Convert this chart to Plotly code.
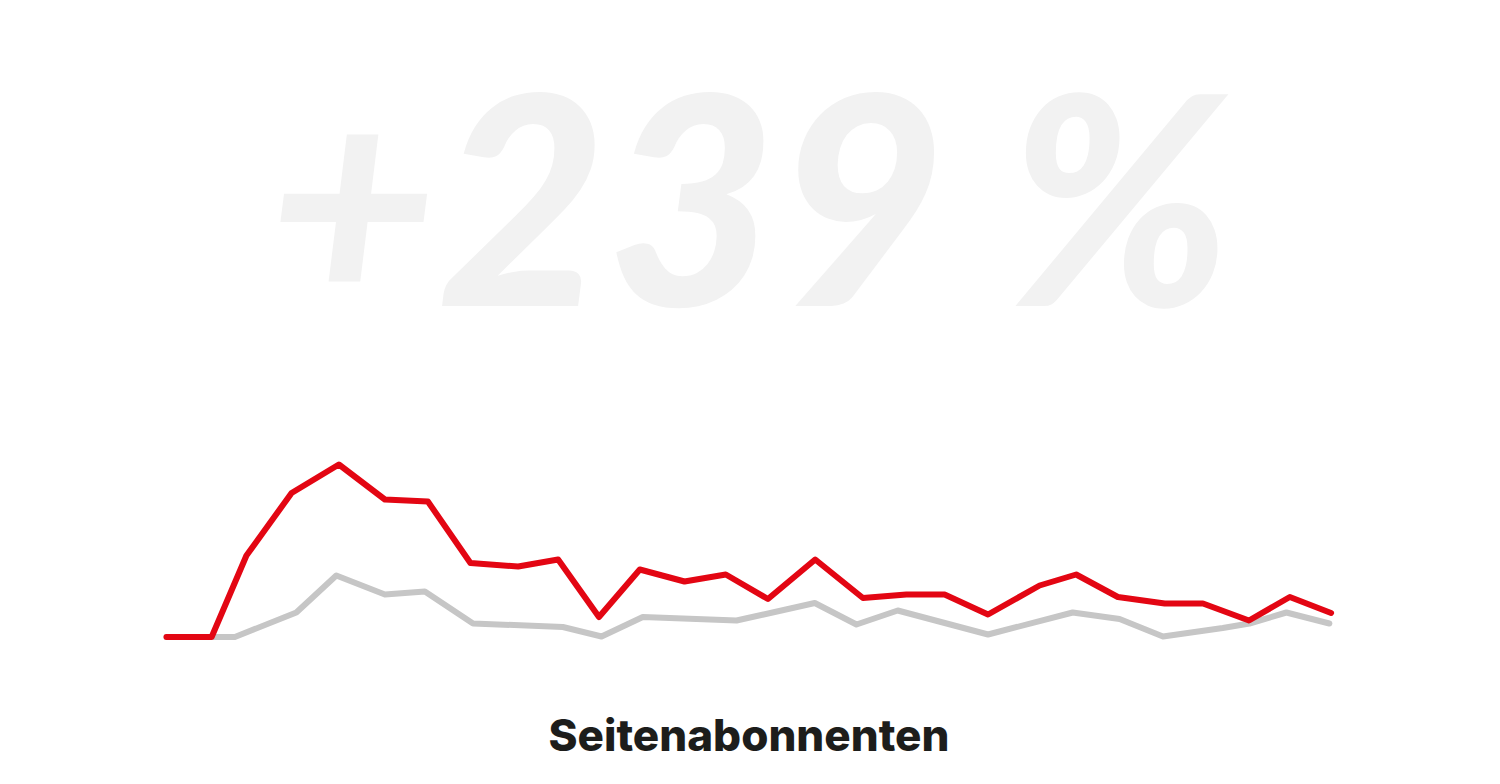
import plotly.graph_objects as go

# Current period (red) – day positions and subscriber gains
red_x = [0, 1.05, 1.86, 2.91, 4.01, 5.08, 6.08, 7.07, 8.18, 9.11, 10.06, 11.01, 12.05, 13.01,
         13.99, 15.09, 16.2, 17.21, 18.1, 19.11, 20.31, 21.16, 22.13, 23.22, 24.11, 25.18, 26.13, 27.09]
red_y = [0, 0, 16.3, 28.8, 34.5, 27.5, 27.1, 14.8, 14.1, 15.5, 4.0, 13.5, 11.1, 12.5,
         7.6, 15.5, 7.8, 8.5, 8.5, 4.5, 10.3, 12.5, 8.0, 6.7, 6.7, 3.3, 8.0, 4.8]

# Previous period (grey)
grey_x = [0, 1.59, 3.02, 3.95, 5.08, 6.01, 7.13, 9.22, 10.12, 11.08, 13.26, 15.08, 16.05,
          17.01, 19.11, 21.08, 22.17, 23.18, 24.57, 25.19, 26.05, 27.05]
grey_y = [0, 0, 4.9, 12.3, 8.5, 9.1, 2.7, 2.0, 0.1, 4.0, 3.3, 6.8, 2.5,
          5.3, 0.5, 4.9, 3.6, 0.1, 1.8, 2.7, 4.9, 2.7]

big_label = "+239 %"
title_text = "Seitenabonnenten"

fig = go.Figure()
fig.add_trace(go.Scatter(x=grey_x, y=grey_y, mode="lines",
                         line=dict(color="#c6c6c6", width=6), hoverinfo="skip"))
fig.add_trace(go.Scatter(x=red_x, y=red_y, mode="lines",
                         line=dict(color="#e30613", width=6), hoverinfo="skip"))

fig.add_annotation(text=big_label, xref="paper", yref="paper", x=0.5005, y=2.27,
                   xanchor="center", yanchor="middle", showarrow=False,
                   font=dict(family="Lato", size=292, color="#f2f2f2", weight=900, style="italic"))

fig.update_layout(
    width=1500, height=784,
    margin=dict(l=145.2, r=146.5, t=447.3, b=136.7),
    paper_bgcolor="white", plot_bgcolor="white",
    showlegend=False,
    xaxis=dict(range=[-0.5, 27.6], visible=False, fixedrange=True),
    yaxis=dict(range=[-2, 38], visible=False, fixedrange=True),
    title=dict(text=title_text, x=749 / 1500, y=1 - 736 / 784, xanchor="center", yanchor="middle",
               xref="container", yref="container",
               font=dict(family="Inter", size=44, color="#1d1d1b", weight=800)),
)

post = """
document.body.style.margin='0';
document.querySelectorAll('.scatterlayer path.js-line').forEach(function(p){
  p.style.strokeLinecap='round'; p.style.strokeLinejoin='round';
});
"""
fig.write_html("out.html", config={"displayModeBar": False}, post_script=post)
